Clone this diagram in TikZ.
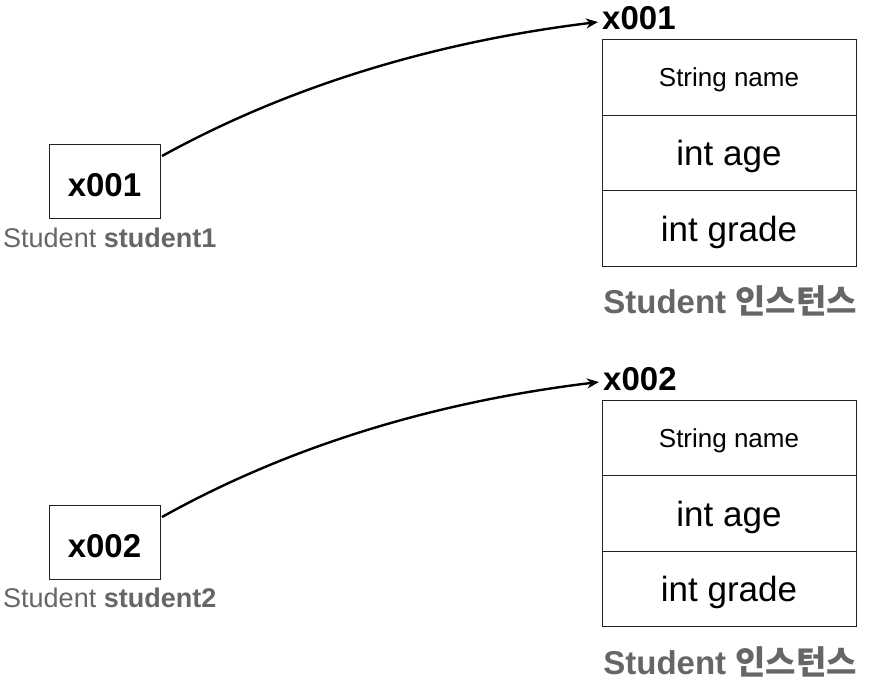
\documentclass[tikz,border=0pt]{standalone}
\usepackage{fontspec}
\setmainfont{Liberation Sans}
\newfontfamily\krfont{Noto Sans CJK KR}
\usetikzlibrary{arrows.meta}
\definecolor{lbl}{HTML}{666666}
\definecolor{edge}{HTML}{222222}
\tikzset{
  refbox/.style={draw=edge, line width=1pt, minimum width=111pt, minimum height=74pt, inner sep=0pt, text height=30pt, text depth=0pt, font=\fontsize{33}{40}\selectfont\bfseries},
  fieldsmall/.style={draw=edge, line width=1pt, minimum width=254pt, minimum height=75.5pt, inner sep=0pt, text depth=0pt, font=\fontsize{26}{31}\selectfont},
  fieldbig/.style={draw=edge, line width=1pt, minimum width=254pt, minimum height=75.5pt, inner sep=0pt, text depth=0pt, font=\fontsize{35}{42}\selectfont},
  varlabel/.style={inner sep=0pt, text=lbl, font=\fontsize{27}{32}\selectfont},
  addr/.style={inner sep=0pt, font=\fontsize{33}{40}\selectfont\bfseries},
  inst/.style={inner sep=0pt, text=lbl, font=\fontsize{33}{40}\selectfont\bfseries},
  ptr/.style={line width=2.4pt, -{Stealth[length=12pt,width=10pt]}}
}
\begin{document}
\begin{tikzpicture}[x=1pt,y=-1pt]
\useasboundingbox (0,0) rectangle (878,688);
% ---- first ----
\node[refbox] (r1) at (104.5,181) {x001};
\node[varlabel, anchor=west] (v1) at (3,238) {Student \textbf{student1}};
\node[fieldsmall] (a1) at (729,77.5) {String name};
\node[fieldbig] (b1) at (729,153) {int age};
\node[fieldbig] (c1) at (729,228.5) {int grade};
\node[addr, anchor=south west] (h1) at (602,30) {x001};
\node[inst, anchor=east] (i1) at (857,301) {Student {\krfont\bfseries 인스턴스}};
\coordinate (e1) at (598,22);
\draw[ptr] (162,156) .. controls (300,80) and (450,40) .. (e1);
% ---- second ----
\node[refbox] (r2) at (104.5,542) {x002};
\node[varlabel, anchor=west] (v2) at (3,598) {Student \textbf{student2}};
\node[fieldsmall] (a2) at (729,438) {String name};
\node[fieldbig] (b2) at (729,513.5) {int age};
\node[fieldbig] (c2) at (729,589) {int grade};
\node[addr, anchor=south west] (h2) at (603,391) {x002};
\node[inst, anchor=east] (i2) at (857,662) {Student {\krfont\bfseries 인스턴스}};
\coordinate (e2) at (599,382);
\draw[ptr] (162,517) .. controls (300,440) and (450,400) .. (e2);
\end{tikzpicture}
\end{document}
